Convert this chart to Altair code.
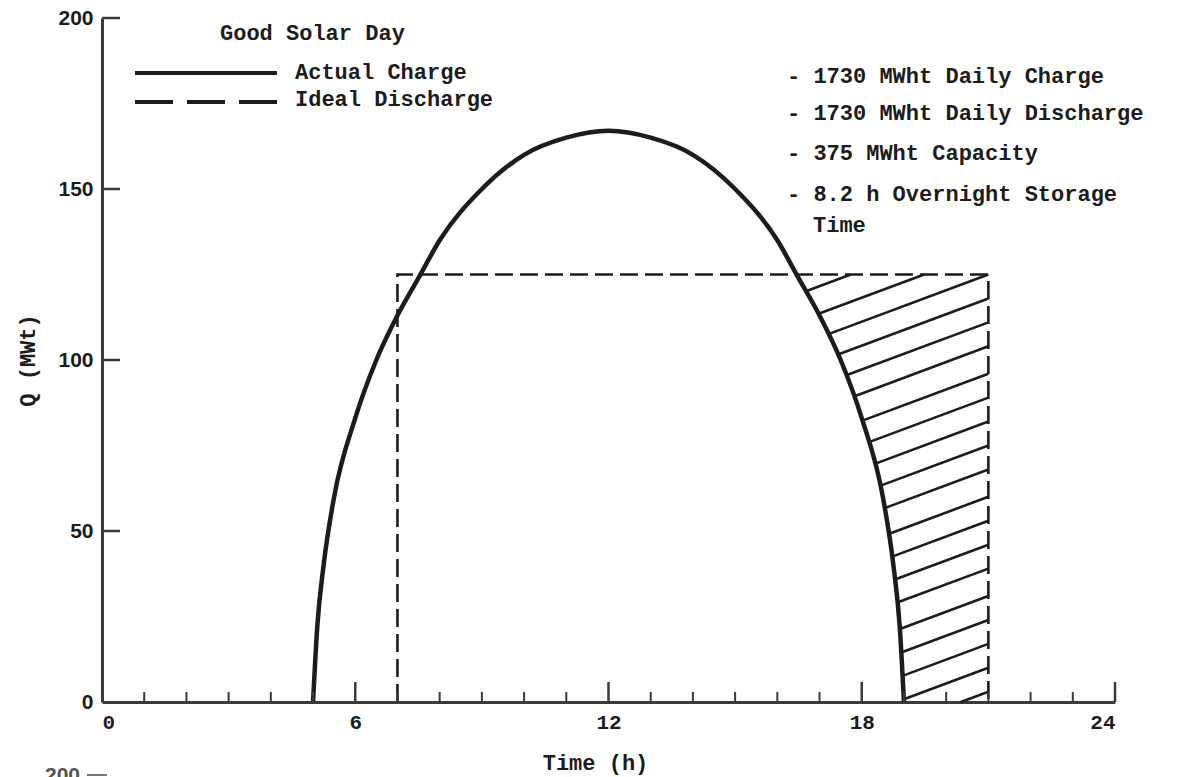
import altair as alt
import numpy as np
import pandas as pd

# ---------------- data ----------------
charge_t = [5.0, 5.1, 5.25, 5.5, 6.0, 6.5, 7.0, 7.5, 8.0, 9.0, 10.0, 11.0, 12.0,
            13.0, 14.0, 15.0, 16.0, 16.5, 17.0, 17.5, 18.0, 18.5, 18.75, 18.9, 19.0]
charge_q = [0, 22, 40, 60, 83, 100, 113, 124, 135, 150, 160, 165, 167,
            165, 160, 150, 135, 124, 113, 100, 83, 60, 40, 22, 0]

disch_t = [7, 7, 21, 21]
disch_q = [0, 125, 125, 0]

# hatch lines: height where each meets the right edge (t = 21), and their slope (Q per h)
hatch_right_q = [3, 10, 17, 24, 31, 39, 46, 53, 60, 68, 75, 82, 89, 96, 104, 111,
                 118, 125, 132, 140, 147]
hatch_slope = 4.6

x_major = [0, 6, 12, 18, 24]
x_minor = [1, 2, 3, 4, 5, 7, 8, 9, 10, 11, 13, 14, 15, 16, 17, 19, 20, 21, 22, 23]
x_major_ticks = [6, 12, 18, 24]
y_ticks = [0, 50, 100, 150, 200]

legend_title = "Good Solar Day"
legend_items = ["Actual Charge", "Ideal Discharge"]
notes = ["- 1730 MWht Daily Charge", "- 1730 MWht Daily Discharge",
         "- 375 MWht Capacity", "- 8.2 h Overnight Storage", "Time"]

# ---------------- style ----------------
W, H = 1013, 684
INK = "#1c1c1c"
AX = "#3a3a3a"
MONO = "Liberation Mono"
SANS = "Liberation Sans"

xs = alt.Scale(domain=[0, 24], nice=False, zero=False)
ys = alt.Scale(domain=[0, 200], nice=False)

# ---------------- hatch geometry (derived from data) ----------------
ct = np.array(charge_t, dtype=float)
cq = np.array(charge_q, dtype=float)
top_q = disch_q[1]
right_t = disch_t[2]


def curve_at(t):
    return np.interp(t, ct, cq, left=0.0, right=0.0)


rows = []
for qr in hatch_right_q:
    if qr > top_q:
        tr = right_t - (qr - top_q) / hatch_slope
        qtop = top_q
    else:
        tr = right_t
        qtop = qr
    if qtop < curve_at(tr):
        continue
    tt = np.linspace(tr, 12.0, 6000)
    lq = qr + hatch_slope * (tt - right_t)
    ok = (lq >= curve_at(tt)) & (lq >= 0)
    bad = np.where(~ok)[0]
    idx = bad[0] - 1 if len(bad) else len(tt) - 1
    if idx <= 0:
        continue
    tl = tt[idx]
    ql = max(qr + hatch_slope * (tl - right_t), 0.0)
    rows.append({"t": tl, "q": ql, "t2": tr, "q2": qtop})
hatch_df = pd.DataFrame(rows)

curve_df = pd.DataFrame({"t": charge_t, "q": charge_q})
disch_df = pd.DataFrame({"t": disch_t, "q": disch_q, "o": list(range(len(disch_t)))})
minor_df = pd.DataFrame({"t": x_minor})
major_df = pd.DataFrame({"t": x_major_ticks})
ytick_df = pd.DataFrame({"q": y_ticks[1:]})

x_axis = alt.Axis(values=x_major, ticks=False, grid=False, domainColor=AX, domainWidth=3,
                  labelFont=MONO, labelFontSize=21, labelFontWeight="bold", labelColor=INK,
                  labelPadding=9, format="d",
                  titleFont=MONO, titleFontSize=22, titleFontWeight="bold", titleColor=INK,
                  titleX=493, titleY=60, titleBaseline="middle")
y_axis = alt.Axis(values=y_ticks, ticks=False, grid=False, domainColor=AX, domainWidth=3,
                  labelFont=SANS, labelFontSize=21, labelFontWeight="bold", labelColor=INK,
                  labelPadding=9, format="d",
                  titleFont=MONO, titleFontSize=22, titleFontWeight="bold", titleColor=INK,
                  titleX=-75, titleY=H / 2, titleBaseline="middle")

curve = alt.Chart(curve_df).mark_line(color=INK, strokeWidth=4.5, interpolate="monotone").encode(
    x=alt.X("t:Q", scale=xs, axis=x_axis, title="Time (h)"),
    y=alt.Y("q:Q", scale=ys, axis=y_axis, title="Q (MWt)"),
)

disch = alt.Chart(disch_df).mark_line(color=INK, strokeWidth=2.6, strokeDash=[18, 7]).encode(
    x=alt.X("t:Q", scale=xs), y=alt.Y("q:Q", scale=ys), order="o:Q"
)

hatch = alt.Chart(hatch_df).mark_rule(color=INK, strokeWidth=2.6).encode(
    x=alt.X("t:Q", scale=xs), x2="t2:Q", y=alt.Y("q:Q", scale=ys), y2="q2:Q"
)

minor = alt.Chart(minor_df).mark_rule(color=AX, strokeWidth=2).encode(
    x=alt.X("t:Q", scale=xs), y=alt.value(H), y2=alt.value(H - 10)
)
major = alt.Chart(major_df).mark_rule(color=AX, strokeWidth=2.5).encode(
    x=alt.X("t:Q", scale=xs), y=alt.value(H), y2=alt.value(H - 20)
)
yt = alt.Chart(ytick_df).mark_rule(color=AX, strokeWidth=2.5).encode(
    y=alt.Y("q:Q", scale=ys), x=alt.value(0), x2=alt.value(18)
)

one = pd.DataFrame({"s": [""]})


def label(txt, x, y, size=22, align="left", font=MONO, color=INK, weight="bold"):
    return alt.Chart(pd.DataFrame({"s": [txt]})).mark_text(
        align=align, baseline="middle", font=font, fontSize=size, fontWeight=weight, color=color
    ).encode(x=alt.value(x), y=alt.value(y), text="s:N")


leg_solid = alt.Chart(one).mark_rule(color=INK, strokeWidth=4).encode(
    x=alt.value(33), x2=alt.value(175), y=alt.value(55))
leg_dash = alt.Chart(one).mark_rule(color=INK, strokeWidth=4, strokeDash=[38, 14]).encode(
    x=alt.value(33), x2=alt.value(175), y=alt.value(84))

texts = [
    label(legend_title, 118, 15),
    label(legend_items[0], 193, 54),
    label(legend_items[1], 193, 81),
    label(notes[0], 685, 58),
    label(notes[1], 685, 95),
    label(notes[2], 685, 135),
    label(notes[3], 685, 176),
    label(notes[4], 711, 207),
    label("200", -22, 758, size=21, align="right", font=SANS, color="#555"),
]
frag_rule = alt.Chart(one).mark_rule(color="#777", strokeWidth=2).encode(
    x=alt.value(-15), x2=alt.value(5), y=alt.value(757))

chart = alt.layer(
    curve, hatch, disch, minor, major, yt, leg_solid, leg_dash, frag_rule, *texts
).properties(
    width=W, height=H,
    padding={"left": 102, "top": 18, "right": 63, "bottom": 75},
    autosize=alt.AutoSizeParams(type="none"),
    background="white",
).configure_view(stroke=None)

chart.save("out.html", embed_options={"renderer": "svg", "actions": False})
